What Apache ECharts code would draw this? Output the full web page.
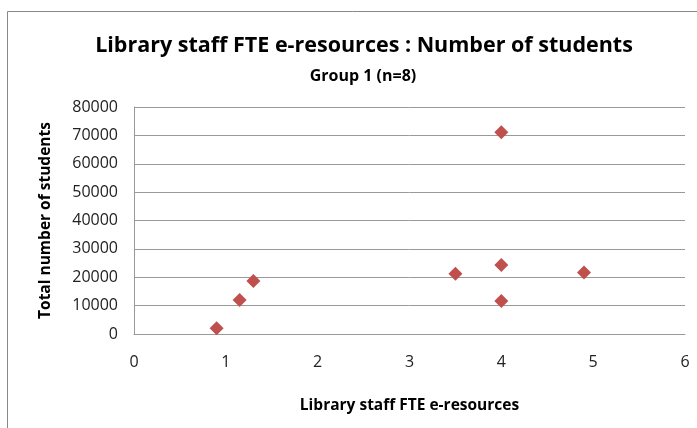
<!DOCTYPE html>
<html>
<head>
<meta charset="utf-8">
<script src="https://cdn.jsdelivr.net/npm/echarts@6/dist/echarts.min.js"></script>
<style>
    html, body { margin: 0; padding: 0; background: #fff; }
    #chart { width: 697px; height: 428px; }
</style>
</head>
<body>
<div id="chart"></div>
<script>
// values
const fteValues = [0.9, 1.15, 1.3, 3.5, 4, 4, 4, 4.9];
const studentValues = [2000, 12000, 18700, 21200, 71100, 24300, 11600, 21700];
const points = fteValues.map((x, i) => [x, studentValues[i]]);

const myChart = echarts.init(document.getElementById('chart'));
const font = 'Open Sans, Noto Sans, sans-serif';

const option = {
    animation: false,
    title: [
        {
            text: 'Library staff FTE e-resources : Number of students',
            left: 359, top: 30, textAlign: 'center',
            textStyle: { fontFamily: font, fontSize: 21.5, fontWeight: 'bold', color: '#000' }
        },
        {
            text: 'Group 1 (n=8)',
            left: 358, top: 63, textAlign: 'center',
            textStyle: { fontFamily: font, fontSize: 16, fontWeight: 'bold', color: '#000' }
        }
    ],
    graphic: [{
        type: 'rect',
        shape: { x: 7.5, y: 11.5, width: 700, height: 430 },
        style: { fill: 'none', stroke: '#888', lineWidth: 1 }
    }],
    grid: { left: 134, right: 12, top: 107, bottom: 94 },
    xAxis: {
        type: 'value', min: 0, max: 6, interval: 1,
        name: 'Library staff FTE e-resources',
        nameLocation: 'middle', nameGap: 64,
        nameTextStyle: { fontFamily: font, fontSize: 15.5, fontWeight: 'bold', color: '#000' },
        axisLine: { show: true, lineStyle: { color: '#999' } },
        axisTick: { show: false },
        splitLine: { show: false },
        axisLabel: { fontFamily: font, fontSize: 16, color: '#222', margin: 20 }
    },
    yAxis: {
        type: 'value', min: 0, max: 80000, interval: 10000,
        name: 'Total number of students',
        nameLocation: 'middle', nameGap: 80,
        nameTextStyle: { fontFamily: font, fontSize: 15.5, fontWeight: 'bold', color: '#000' },
        axisLine: { show: true, lineStyle: { color: '#999' } },
        axisTick: { show: false },
        splitLine: { show: true, lineStyle: { color: '#999' } },
        axisLabel: { fontFamily: font, fontSize: 16, color: '#222', margin: 16, formatter: v => String(v) }
    },
    series: [{
        type: 'scatter',
        symbol: 'diamond',
        symbolSize: 14,
        itemStyle: { color: '#C0504D', opacity: 1 },
        data: points
    }]
};
myChart.setOption(option);
</script>
</body>
</html>
